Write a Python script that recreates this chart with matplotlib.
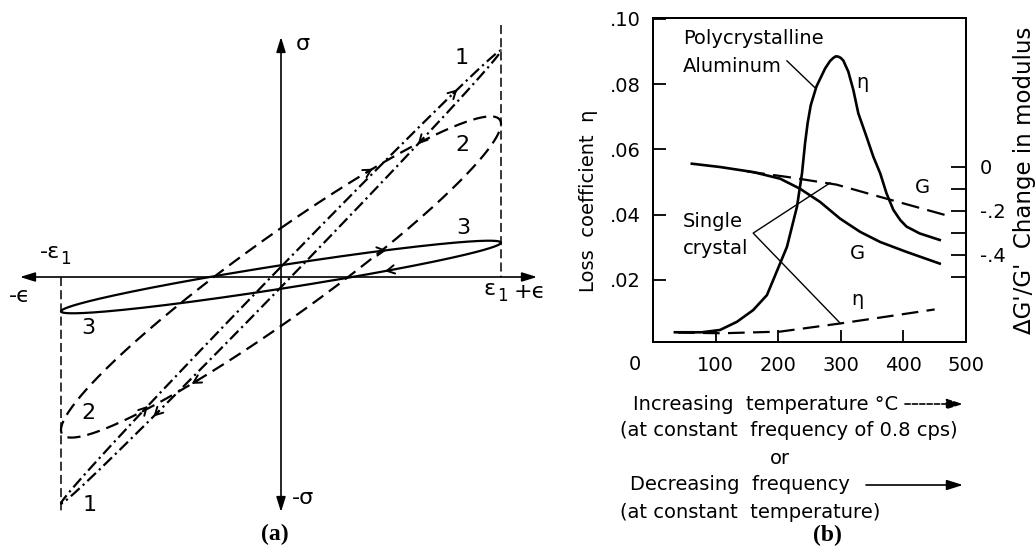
import numpy as np
import matplotlib
matplotlib.use("Agg")
import matplotlib.pyplot as plt
from matplotlib.patches import FancyArrowPatch

plt.rcParams["font.family"] = ["DejaVu Sans"]
plt.rcParams["mathtext.fontset"] = "dejavusans"
plt.rcParams["lines.scale_dashes"] = False

# ---------------- (a) stress-strain hysteresis loops ----------------
# strain = eps1 * sin(wt), stress = amplitude * sin(wt + phase lag)
loop_ids = ["1", "2", "3"]
loop_stress_amp = [1.03, 0.73, 0.165]
loop_phase_lag = [0.045, 0.31, 0.33]

# ---------------- (b) damping and modulus vs temperature ----------------
poly_eta_T = [35, 78, 107, 134, 160, 182, 192, 214, 230, 238, 243, 247, 252,
              261, 275, 283, 288, 292, 296, 300, 304, 312, 320, 328, 341, 352,
              363, 373, 384, 395, 405, 426, 458]
poly_eta = [0.0039, 0.0039, 0.0046, 0.0071, 0.0107, 0.0153, 0.0199, 0.0301,
            0.0424, 0.0526, 0.0620, 0.0680, 0.0735, 0.0792, 0.0848, 0.0871,
            0.0880, 0.0885, 0.0884, 0.0880, 0.0872, 0.0838, 0.0782, 0.0710,
            0.0639, 0.0577, 0.0526, 0.0465, 0.0414, 0.0383, 0.0363, 0.0342,
            0.0322]

poly_G_T = [62, 107, 160, 203, 235, 267, 299, 331, 363, 405, 458]
poly_G = [0.015, 0.0, -0.023, -0.053, -0.099, -0.159, -0.235, -0.295,
          -0.341, -0.386, -0.439]

single_G_T = [150, 214, 293, 373, 469]
single_G = [-0.020, -0.045, -0.080, -0.144, -0.220]

single_eta_T = [40, 110, 203, 299, 373, 450]
single_eta = [0.0038, 0.0036, 0.0041, 0.0066, 0.0087, 0.0109]

temp_ticks = [100, 200, 300, 400, 500]
eta_ticks = [0.02, 0.04, 0.06, 0.08, 0.10]
eta_tick_labels = [".02", ".04", ".06", ".08", ".10"]
mod_ticks = [0.0, -0.1, -0.2, -0.3, -0.4, -0.5]
mod_tick_labels = ["0", "", "-.2", "", "-.4", ""]

W, H = 1036, 546
fig = plt.figure(figsize=(W / 100, H / 100), dpi=100)
fig.patch.set_facecolor("white")

# ================= panel (a) =================
OX, OY, U = 281.0, 277.0, 220.0
axA = fig.add_axes([0, 0, 540 / W, 1])
axA.set_xlim(-OX / U, (540 - OX) / U)
axA.set_ylim(-(H - OY) / U, OY / U)
axA.axis("off")


def pa(x, y):
    return ((x - OX) / U, (OY - y) / U)


# coordinate axes with arrow heads
axA.annotate("", xy=pa(20, OY), xytext=pa(537, OY),
             arrowprops=dict(arrowstyle="<|-|>,head_length=0.9,head_width=0.28",
                             color="k", lw=1.2, shrinkA=0, shrinkB=0))
axA.annotate("", xy=pa(OX, 37), xytext=pa(OX, 512),
             arrowprops=dict(arrowstyle="<|-|>,head_length=0.9,head_width=0.28",
                             color="k", lw=1.2, shrinkA=0, shrinkB=0))

# strain amplitude markers
axA.plot([1, 1], [pa(0, 25)[1], 0], color="k", lw=1.1, dashes=(6.5, 3))
axA.plot([-1, -1], [0, pa(0, 512)[1]], color="k", lw=1.1, dashes=(6.5, 3))

t = np.linspace(0, 2 * np.pi, 600)
loop_dashes = [(8.5, 3.0, 1.6, 3.0), (9.5, 5.0), None]
for amp, lag, ds in zip(loop_stress_amp, loop_phase_lag, loop_dashes):
    line, = axA.plot(np.sin(t), amp * np.sin(t + lag), color="k", lw=1.6,
                     solid_capstyle="round")
    if ds is not None:
        line.set_dashes(ds)


def loop_arrow(idx, t0):
    amp, lag = loop_stress_amp[idx], loop_phase_lag[idx]
    p0 = (np.sin(t0), amp * np.sin(t0 + lag))
    p1 = (np.sin(t0 + 0.03), amp * np.sin(t0 + 0.03 + lag))
    axA.annotate("", xy=p1, xytext=p0,
                 arrowprops=dict(arrowstyle="->,head_length=0.55,head_width=0.3",
                                 color="k", lw=1.4, shrinkA=0, shrinkB=0))


for idx, t0 in [(0, -0.68), (0, 3.73), (0, 2.44), (0, 0.9),
                (1, 3.53), (1, 0.40), (2, 0.47), (2, 2.62)]:
    loop_arrow(idx, t0)

ta = dict(ha="center", va="center", fontsize=16, color="k")
sub = dict(ha="center", va="center", fontsize=12, color="k")
axA.text(*pa(303, 44), "\u03c3", **ta)
axA.text(*pa(303, 498), "-\u03c3", **ta)
axA.text(*pa(50, 252), "-\u03b5", **ta)
axA.text(*pa(65, 259), "1", **sub)
axA.text(*pa(20, 296), "-\u03f5", **ta)
axA.text(*pa(490, 289), "\u03b5", **ta)
axA.text(*pa(502, 296), "1", **sub)
axA.text(*pa(530, 292), "+\u03f5", **ta)
for lab, (x, y) in zip(["1", "2", "3", "3", "2", "1"],
                       [(462, 58), (462, 145), (463, 228),
                        (88, 328), (88, 413), (90, 505)]):
    axA.text(*pa(x, y), lab, **ta)
fig.text(275 / W, 1 - 534 / H, "(a)", ha="center", va="center",
         fontsize=17, fontweight="bold", family="Liberation Serif")

# ================= panel (b) =================
bx0, bx1, by0, by1 = 653, 966, 18, 342
ax = fig.add_axes([bx0 / W, 1 - by1 / H, (bx1 - bx0) / W, (by1 - by0) / H])
ax.set_xlim(0, 500)
ax.set_ylim((345 - by1) / 3262, (345 - by0) / 3262)
ax2 = ax.twinx()
ax2.set_ylim((167 - by1) / 220, (167 - by0) / 220)

for a in (ax, ax2):
    for s in a.spines.values():
        s.set_linewidth(1.4)

ax.plot(poly_eta_T, poly_eta, color="k", lw=1.9, solid_joinstyle="round")
ax.plot(single_eta_T, single_eta, color="k", lw=1.6, dashes=(12, 6))
ax2.plot(poly_G_T, poly_G, color="k", lw=1.9, solid_joinstyle="round")
ax2.plot(single_G_T, single_G, color="k", lw=1.6, dashes=(13, 6))

ax.set_xticks(temp_ticks)
ax.set_xticklabels([str(v) for v in temp_ticks])
ax.set_yticks(eta_ticks)
ax.set_yticklabels(eta_tick_labels)
ax.tick_params(direction="in", length=9, width=1.3, labelsize=14, pad=9)
ax.tick_params(axis="x", pad=10)
ax2.set_yticks(mod_ticks)
ax2.set_yticklabels(mod_tick_labels)
ax2.tick_params(direction="in", length=11, width=1.3, labelsize=14, pad=10)
ax.text(-29, (345 - 355) / 3262, "0", ha="center", va="top", fontsize=14)

tb = dict(fontsize=14, color="k", va="center")
ax.text(48, 0.0941, "Polycrystalline", ha="left", **tb)
ax.text(48, 0.0855, "Aluminum", ha="left", **tb)
ax.plot([214, 258], [0.0871, 0.0790], color="k", lw=1.0)
ax.text(335, 0.0806, "\u03b7", ha="center", **tb)
ax.text(431, 0.0484, "G", ha="center", **tb)
ax.text(326, 0.0282, "G", ha="center", **tb)
ax.text(48, 0.0380, "Single", ha="left", **tb)
ax.text(48, 0.0297, "crystal", ha="left", **tb)
ax.plot([283, 160, 299], [0.0497, 0.0343, 0.0067], color="k", lw=1.0)
ax.text(326, 0.0138, "\u03b7", ha="center", **tb)

fig.text(588 / W, 1 - 201 / H, "Loss  coefficient  \u03b7", rotation=90,
         ha="center", va="center", fontsize=14)
fig.text(1025 / W, 1 - 180 / H, "\u0394G'/G'  Change in modulus",
         rotation=90, ha="center", va="center", fontsize=16.5)


# notes under the temperature axis
def ftxt(x, y, s, ha="left"):
    fig.text(x / W, 1 - y / H, s, ha=ha, va="center", fontsize=14)


def farrow(x0, x1, y, dashed=False):
    fig.add_artist(FancyArrowPatch(
        (x0 / W, 1 - y / H), (x1 / W, 1 - y / H), transform=fig.transFigure,
        arrowstyle="-|>,head_length=0.7,head_width=0.22", mutation_scale=14,
        color="k", lw=1.2, linestyle="--" if dashed else "-",
        shrinkA=0, shrinkB=0))


ftxt(633, 404, "Increasing  temperature \u00b0C")
farrow(905, 963, 404, dashed=True)
ftxt(620, 431, "(at constant  frequency of 0.8 cps)")
ftxt(780, 459, "or", ha="center")
ftxt(630, 485, "Decreasing  frequency")
farrow(866, 963, 485)
ftxt(620, 512, "(at constant  temperature)")
fig.text(827 / W, 1 - 535 / H, "(b)", ha="center", va="center",
         fontsize=17, fontweight="bold", family="Liberation Serif")

fig.savefig("out.png", dpi=100, facecolor="white")
